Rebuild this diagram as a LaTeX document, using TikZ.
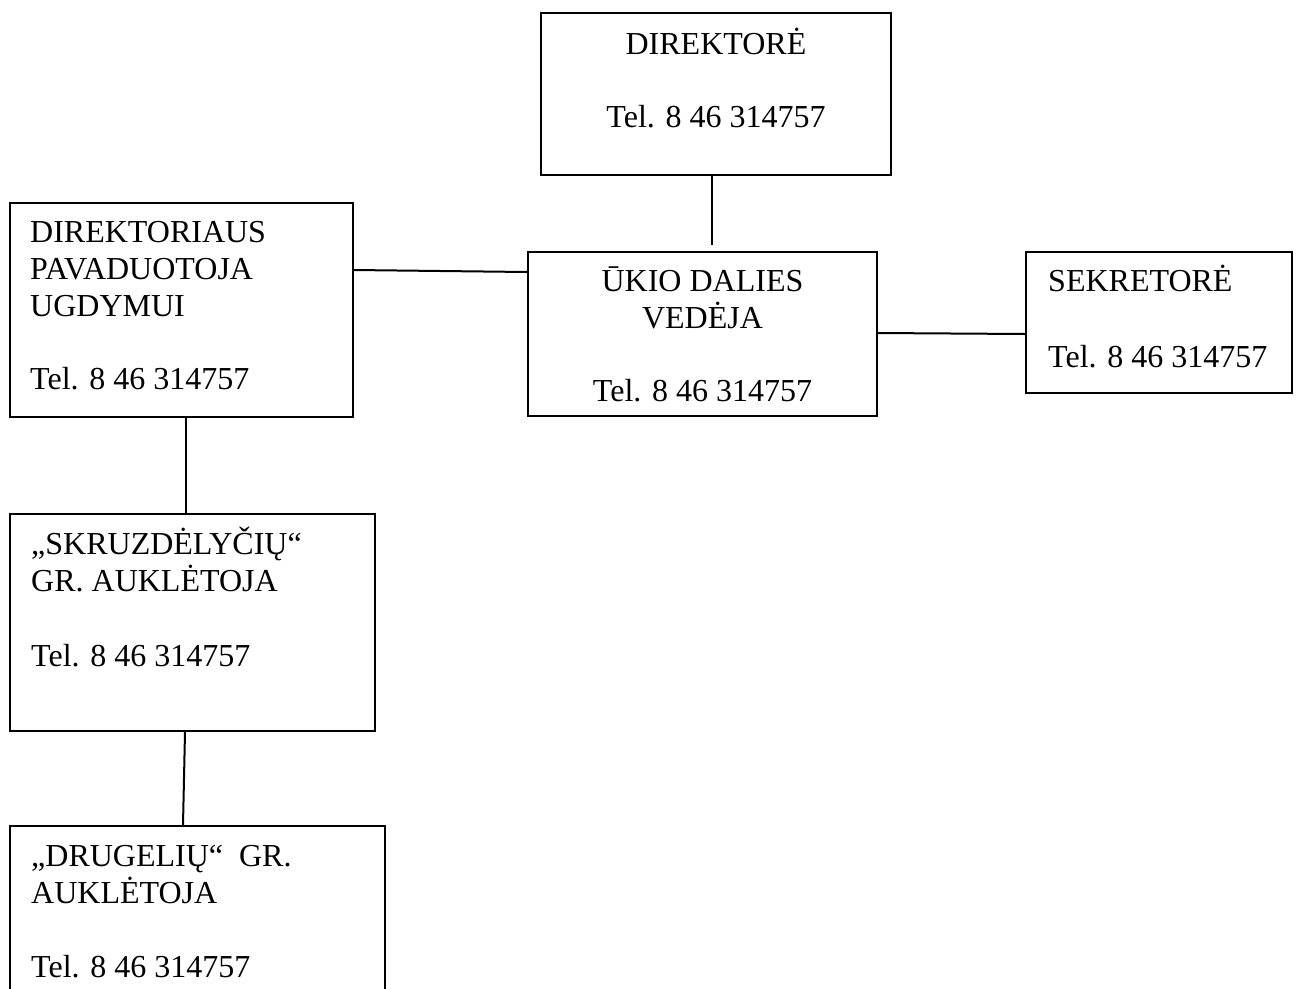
\documentclass[tikz,border=0pt]{standalone}
\usepackage{fontspec}
\setmainfont{Liberation Serif}
\begin{document}
\begin{tikzpicture}[x=1pt,y=-1pt,
  box/.style={draw=black,line width=2pt,rectangle,inner sep=0pt,fill=none},
  lbl/.style={inner sep=0pt,font=\fontsize{32}{37}\selectfont},
  lnk/.style={draw=black,line width=2pt}]
\useasboundingbox (0,0) rectangle (1297,988);
\fill[white] (0,0) rectangle (1297,988);
\clip (0,0) rectangle (1297,988);
% boxes
\node[box,minimum width=350pt,minimum height=162pt] (dir) at (716,94) {};
\node[box,minimum width=343pt,minimum height=214pt] (pav) at (181.5,310) {};
\node[box,minimum width=349pt,minimum height=164pt] (ukio) at (702.5,334) {};
\node[box,minimum width=266pt,minimum height=141pt] (sek) at (1159,322.5) {};
\node[box,minimum width=364.5pt,minimum height=217pt] (skr) at (192.25,622.5) {};
\node[box,minimum width=374.5pt,minimum height=190pt] (drg) at (197.25,921) {};
% texts
\node[lbl,anchor=base] (dirA) at (716,54) {DIREKTORĖ};
\node[lbl,anchor=base] (dirB) at (716,127) {Tel. 8 46 314757};
\node[lbl,anchor=base west] (pavA) at (30,242) {DIREKTORIAUS};
\node[lbl,anchor=base west] (pavB) at (30,279) {PAVADUOTOJA};
\node[lbl,anchor=base west] (pavC) at (30,316) {UGDYMUI};
\node[lbl,anchor=base west] (pavD) at (30,389) {Tel. 8 46 314757};
\node[lbl,anchor=base] (ukA) at (702.5,291) {ŪKIO DALIES};
\node[lbl,anchor=base] (ukB) at (702.5,328) {VEDĖJA};
\node[lbl,anchor=base] (ukC) at (702.5,401) {Tel. 8 46 314757};
\node[lbl,anchor=base west] (sekA) at (1048,291) {SEKRETORĖ};
\node[lbl,anchor=base west] (sekB) at (1048,367) {Tel. 8 46 314757};
\node[lbl,anchor=base west] (skrA) at (31,554) {„SKRUZDĖLYČIŲ“};
\node[lbl,anchor=base west] (skrB) at (31,591) {GR. AUKLĖTOJA};
\node[lbl,anchor=base west] (skrC) at (31,666) {Tel. 8 46 314757};
\node[lbl,anchor=base west] (drgA) at (31,866) {„DRUGELIŲ“\ \ GR.};
\node[lbl,anchor=base west] (drgB) at (31,903) {AUKLĖTOJA};
\node[lbl,anchor=base west] (drgC) at (31,977) {Tel. 8 46 314757};
% connectors
\coordinate (dirEnd) at (712,245);
\draw[lnk] (dir.south -| dirEnd) -- (dirEnd);
\draw[lnk] (pav.east |- 0,270) -- (ukio.west |- 0,272);
\draw[lnk] (ukio.east |- 0,333) -- (sek.west |- 0,334);
\draw[lnk] (pav.south -| 186,0) -- (skr.north -| 186,0);
\draw[lnk] (skr.south -| 185,0) -- (drg.north -| 183,0);
\end{tikzpicture}
\end{document}
